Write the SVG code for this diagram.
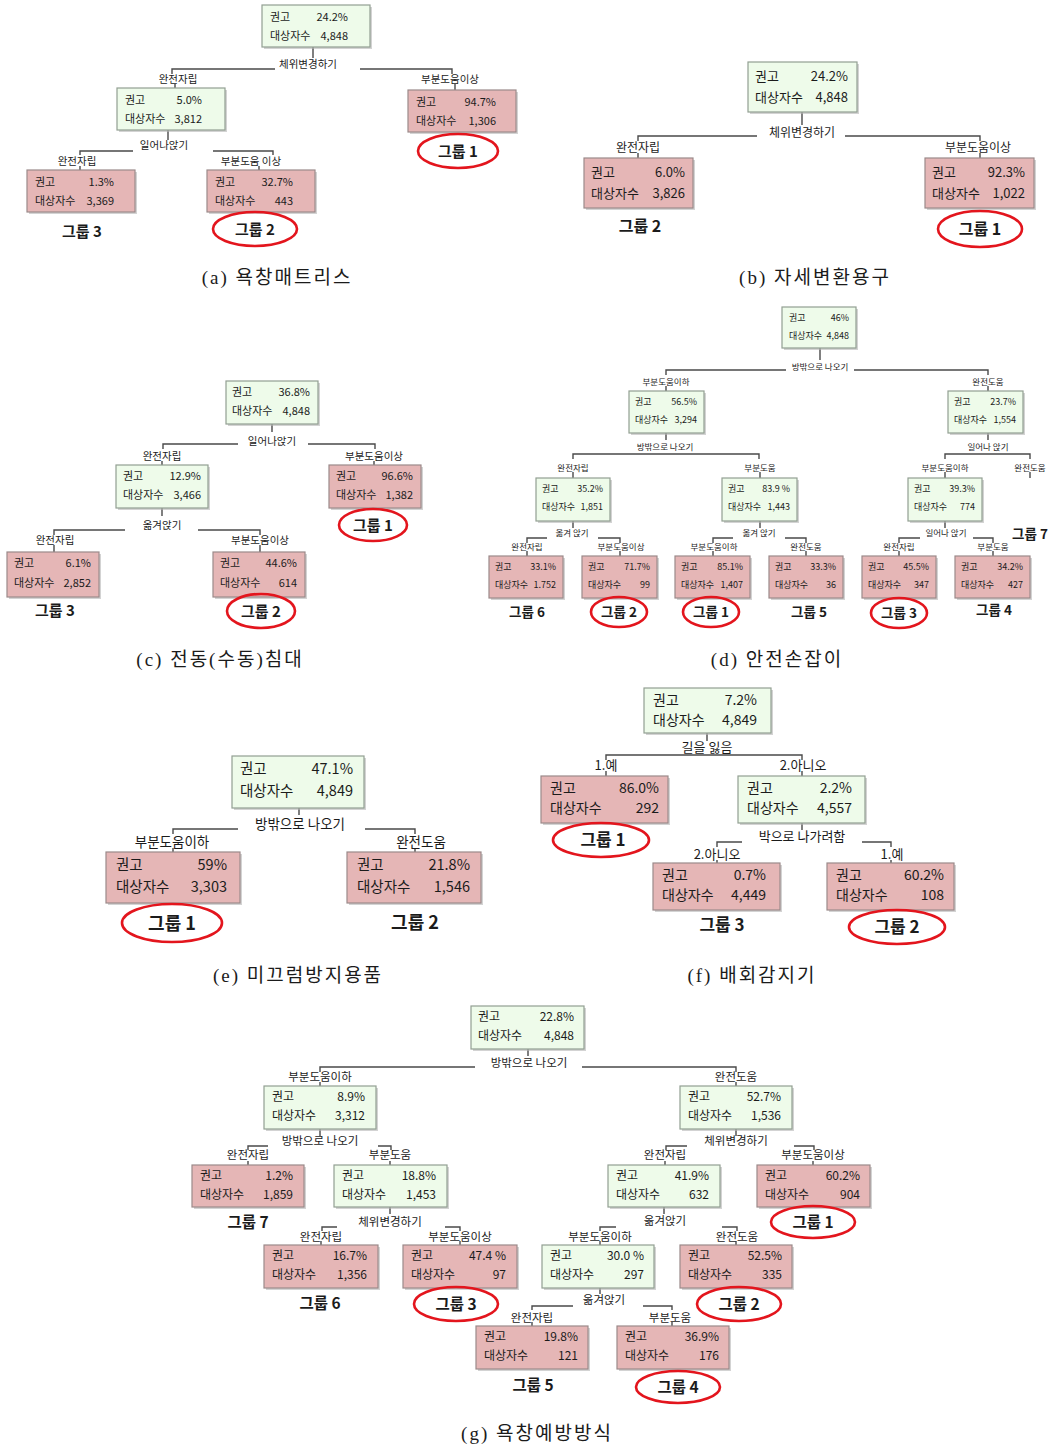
<svg xmlns="http://www.w3.org/2000/svg" width="1049" height="1450" viewBox="0 0 1049 1450">
<style>
text{font-family:"Noto Sans CJK KR","Noto Sans",sans-serif;fill:#1b1b1b}
.gr{fill:#eefbea;stroke:#929f92;stroke-width:1.2}
.pk{fill:#e5b6b6;stroke:#9b8a8a;stroke-width:1.2}
.sh{fill:#b5b5b5;opacity:.6}
.ln{fill:none;stroke:#4a4a4a;stroke-width:1.4}
.ov{fill:none;stroke:#e3151d;stroke-width:2.6}
.r{text-anchor:end}
.m{text-anchor:middle}
.gl{font-weight:700;text-anchor:middle}
.cap{font-family:"Liberation Serif","Noto Sans CJK KR",serif;font-size:19px;text-anchor:middle;letter-spacing:2px}
#pa .nt{font-size:11px}#pa .lb{font-size:10.5px}#pa .gl{font-size:15px}
#pb .nt{font-size:13px}#pb .lb{font-size:12px}#pb .gl{font-size:16px}
#pc .nt{font-size:11px}#pc .lb{font-size:10.5px}#pc .gl{font-size:15px}
#pd .nt{font-size:9px}#pd .lb{font-size:8.5px}#pd .gl{font-size:13.5px}
#pe .nt{font-size:14.5px}#pe .lb{font-size:13.5px}#pe .gl{font-size:18px}
#pf .nt{font-size:14px}#pf .lb{font-size:13px}#pf .gl{font-size:17px}
#pg .nt{font-size:12px}#pg .lb{font-size:11.5px}#pg .gl{font-size:15.5px}
</style>
<rect width="1049" height="1450" fill="#ffffff"/>

<!-- ================= (a) ================= -->
<g id="pa">
<g id="a-connectors">
<path class="ln" d="M313,47V58M275,69H172V74M360,69H452V74M175,84V88M455,84V90"/>
<text class="lb m" x="308" y="68">체위변경하기</text>
<text class="lb m" x="178" y="83">완전자립</text>
<text class="lb m" x="450" y="83">부분도움이상</text>
<path class="ln" d="M168,130V140M133,151H80V155M213,151H273V155M80,166V170M259,166V170"/>
<text class="lb m" x="164" y="149">일어나앉기</text>
<text class="lb m" x="77" y="165">완전자립</text>
<text class="lb m" x="251" y="165">부분도움 이상</text>
</g>
<g id="a-n0" class="nt"><rect class="sh" x="264" y="7" width="108" height="42"/><rect class="gr" x="262" y="5" width="108" height="42"/><text x="270" y="21">권고</text><text class="r" x="348" y="21">24.2%</text><text x="270" y="40">대상자수</text><text class="r" x="348" y="40">4,848</text></g>
<g id="a-n1" class="nt"><rect class="sh" x="119" y="90" width="108" height="42"/><rect class="gr" x="117" y="88" width="108" height="42"/><text x="125" y="104">권고</text><text class="r" x="202" y="104">5.0%</text><text x="125" y="123">대상자수</text><text class="r" x="202" y="123">3,812</text></g>
<g id="a-n2" class="nt"><rect class="sh" x="410" y="92" width="108" height="42"/><rect class="pk" x="408" y="90" width="108" height="42"/><text x="416" y="106">권고</text><text class="r" x="496" y="106">94.7%</text><text x="416" y="125">대상자수</text><text class="r" x="496" y="125">1,306</text></g>
<g id="a-n3" class="nt"><rect class="sh" x="29" y="172" width="108" height="42"/><rect class="pk" x="27" y="170" width="108" height="42"/><text x="35" y="186">권고</text><text class="r" x="114" y="186">1.3%</text><text x="35" y="205">대상자수</text><text class="r" x="114" y="205">3,369</text></g>
<g id="a-n4" class="nt"><rect class="sh" x="209" y="172" width="108" height="42"/><rect class="pk" x="207" y="170" width="108" height="42"/><text x="215" y="186">권고</text><text class="r" x="293" y="186">32.7%</text><text x="215" y="205">대상자수</text><text class="r" x="293" y="205">443</text></g>
<g id="a-g1"><ellipse class="ov" cx="458" cy="151" rx="40" ry="17"/><text class="gl" x="458" y="157">그룹 1</text></g>
<g id="a-g2"><ellipse class="ov" cx="255" cy="229" rx="42" ry="17"/><text class="gl" x="255" y="235">그룹 2</text></g>
<g id="a-g3"><text class="gl" x="82" y="237">그룹 3</text></g>
<text class="cap" x="277" y="284">(a) 욕창매트리스</text>
</g>

<!-- ================= (b) ================= -->
<g id="pb">
<g id="b-connectors">
<path class="ln" d="M802,112V125M757,136H638V141M845,136H980V141M638,153V158M980,153V158"/>
<text class="lb m" x="802" y="137">체위변경하기</text>
<text class="lb m" x="638" y="152">완전자립</text>
<text class="lb m" x="978" y="152">부분도움이상</text>
</g>
<g id="b-n0" class="nt"><rect class="sh" x="750" y="64" width="109" height="50"/><rect class="gr" x="748" y="62" width="109" height="50"/><text x="755" y="81">권고</text><text class="r" x="848" y="81">24.2%</text><text x="755" y="102">대상자수</text><text class="r" x="848" y="102">4,848</text></g>
<g id="b-n1" class="nt"><rect class="sh" x="586" y="160" width="109" height="50"/><rect class="pk" x="584" y="158" width="109" height="50"/><text x="591" y="177">권고</text><text class="r" x="685" y="177">6.0%</text><text x="591" y="198">대상자수</text><text class="r" x="685" y="198">3,826</text></g>
<g id="b-n2" class="nt"><rect class="sh" x="927" y="160" width="109" height="50"/><rect class="pk" x="925" y="158" width="109" height="50"/><text x="932" y="177">권고</text><text class="r" x="1025" y="177">92.3%</text><text x="932" y="198">대상자수</text><text class="r" x="1025" y="198">1,022</text></g>
<g id="b-g2"><text class="gl" x="640" y="232">그룹 2</text></g>
<g id="b-g1"><ellipse class="ov" cx="980" cy="229" rx="42" ry="18"/><text class="gl" x="980" y="235">그룹 1</text></g>
<text class="cap" x="815" y="284">(b) 자세변환용구</text>
</g>

<!-- ================= (c) ================= -->
<g id="pc">
<g id="c-connectors">
<path class="ln" d="M272,424V432M238,444H163V449M308,444H375V449M162,461V465M374,461V465"/>
<text class="lb m" x="272" y="445">일어나앉기</text>
<text class="lb m" x="162" y="460">완전자립</text>
<text class="lb m" x="374" y="460">부분도움이상</text>
<path class="ln" d="M162,508V516M125,530H54V535M198,530H260V535M54,545V552M260,545V552"/>
<text class="lb m" x="162" y="529">옮겨앉기</text>
<text class="lb m" x="55" y="544">완전자립</text>
<text class="lb m" x="260" y="544">부분도움이상</text>
</g>
<g id="c-n0" class="nt"><rect class="sh" x="228" y="383" width="92" height="43"/><rect class="gr" x="226" y="381" width="92" height="43"/><text x="232" y="396">권고</text><text class="r" x="310" y="396">36.8%</text><text x="232" y="415">대상자수</text><text class="r" x="310" y="415">4,848</text></g>
<g id="c-n1" class="nt"><rect class="sh" x="118" y="467" width="92" height="43"/><rect class="gr" x="116" y="465" width="92" height="43"/><text x="123" y="480">권고</text><text class="r" x="201" y="480">12.9%</text><text x="123" y="499">대상자수</text><text class="r" x="201" y="499">3,466</text></g>
<g id="c-n2" class="nt"><rect class="sh" x="331" y="467" width="92" height="43"/><rect class="pk" x="329" y="465" width="92" height="43"/><text x="336" y="480">권고</text><text class="r" x="413" y="480">96.6%</text><text x="336" y="499">대상자수</text><text class="r" x="413" y="499">1,382</text></g>
<g id="c-n3" class="nt"><rect class="sh" x="9" y="554" width="92" height="45"/><rect class="pk" x="7" y="552" width="92" height="45"/><text x="14" y="567">권고</text><text class="r" x="91" y="567">6.1%</text><text x="14" y="587">대상자수</text><text class="r" x="91" y="587">2,852</text></g>
<g id="c-n4" class="nt"><rect class="sh" x="215" y="554" width="92" height="45"/><rect class="pk" x="213" y="552" width="92" height="45"/><text x="220" y="567">권고</text><text class="r" x="297" y="567">44.6%</text><text x="220" y="587">대상자수</text><text class="r" x="297" y="587">614</text></g>
<g id="c-g1"><ellipse class="ov" cx="373" cy="525" rx="34" ry="16"/><text class="gl" x="373" y="531">그룹 1</text></g>
<g id="c-g3"><text class="gl" x="55" y="616">그룹 3</text></g>
<g id="c-g2"><ellipse class="ov" cx="261" cy="611" rx="34" ry="17"/><text class="gl" x="261" y="617">그룹 2</text></g>
<text class="cap" x="220" y="666">(c) 전동(수동)침대</text>
</g>

<!-- ================= (d) ================= -->
<g id="pd">
<g id="d-connectors">
<path class="ln" d="M820,348V360M786,370H666V375M854,370H988V375M666,386V391M988,386V391"/>
<text class="lb m" x="820" y="370">방밖으로 나오기</text>
<text class="lb m" x="666" y="385">부분도움이하</text>
<text class="lb m" x="988" y="385">완전도움</text>
<path class="ln" d="M666,433V440M573,459V454H759V459M573,472V478M760,472V478"/>
<text class="lb m" x="665" y="450">방밖으로 나오기</text>
<text class="lb m" x="573" y="471">완전자립</text>
<text class="lb m" x="760" y="471">부분도움</text>
<path class="ln" d="M988,433V440M945,459V454H1030V459M945,472V478M1030,472V478"/>
<text class="lb m" x="988" y="450">일어나 앉기</text>
<text class="lb m" x="945" y="471">부분도움이하</text>
<text class="lb m" x="1030" y="471">완전도움</text>
<path class="ln" d="M573,521V528M547,538H527V543M598,538H620V543M527,551V556M620,551V556"/>
<text class="lb m" x="572" y="536">옮겨 앉기</text>
<text class="lb m" x="527" y="550">완전자립</text>
<text class="lb m" x="621" y="550">부분도움이상</text>
<path class="ln" d="M760,521V528M733,538H713V543M785,538H806V543M713,551V556M806,551V556"/>
<text class="lb m" x="759" y="536">옮겨 앉기</text>
<text class="lb m" x="714" y="550">부분도움이하</text>
<text class="lb m" x="806" y="550">완전도움</text>
<path class="ln" d="M945,521V528M920,538H899V543M973,538H993V543M899,551V556M993,551V556"/>
<text class="lb m" x="946" y="536">일어나 앉기</text>
<text class="lb m" x="899" y="550">완전자립</text>
<text class="lb m" x="993" y="550">부분도움</text>
</g>
<g id="d-n0" class="nt"><rect class="sh" x="784" y="309" width="74" height="41"/><rect class="gr" x="782" y="307" width="74" height="41"/><text x="789" y="321">권고</text><text class="r" x="849" y="321">46%</text><text x="789" y="339">대상자수</text><text class="r" x="849" y="339">4,848</text></g>
<g id="d-n1" class="nt"><rect class="sh" x="631" y="393" width="75" height="42"/><rect class="gr" x="629" y="391" width="75" height="42"/><text x="635" y="405">권고</text><text class="r" x="697" y="405">56.5%</text><text x="635" y="423">대상자수</text><text class="r" x="697" y="423">3,294</text></g>
<g id="d-n2" class="nt"><rect class="sh" x="950" y="393" width="75" height="42"/><rect class="gr" x="948" y="391" width="75" height="42"/><text x="954" y="405">권고</text><text class="r" x="1016" y="405">23.7%</text><text x="954" y="423">대상자수</text><text class="r" x="1016" y="423">1,554</text></g>
<g id="d-n3" class="nt"><rect class="sh" x="538" y="480" width="74" height="43"/><rect class="gr" x="536" y="478" width="74" height="43"/><text x="542" y="492">권고</text><text class="r" x="603" y="492">35.2%</text><text x="542" y="510">대상자수</text><text class="r" x="603" y="510">1,851</text></g>
<g id="d-n4" class="nt"><rect class="sh" x="724" y="480" width="75" height="43"/><rect class="gr" x="722" y="478" width="75" height="43"/><text x="728" y="492">권고</text><text class="r" x="790" y="492">83.9 %</text><text x="728" y="510">대상자수</text><text class="r" x="790" y="510">1,443</text></g>
<g id="d-n9" class="nt"><rect class="sh" x="910" y="480" width="74" height="43"/><rect class="gr" x="908" y="478" width="74" height="43"/><text x="914" y="492">권고</text><text class="r" x="975" y="492">39.3%</text><text x="914" y="510">대상자수</text><text class="r" x="975" y="510">774</text></g>
<g id="d-n5" class="nt"><rect class="sh" x="491" y="558" width="74" height="42"/><rect class="pk" x="489" y="556" width="74" height="42"/><text x="495" y="570">권고</text><text class="r" x="556" y="570">33.1%</text><text x="495" y="588">대상자수</text><text class="r" x="556" y="588">1.752</text></g>
<g id="d-n6" class="nt"><rect class="sh" x="584" y="558" width="75" height="42"/><rect class="pk" x="582" y="556" width="75" height="42"/><text x="588" y="570">권고</text><text class="r" x="650" y="570">71.7%</text><text x="588" y="588">대상자수</text><text class="r" x="650" y="588">99</text></g>
<g id="d-n7" class="nt"><rect class="sh" x="677" y="558" width="75" height="42"/><rect class="pk" x="675" y="556" width="75" height="42"/><text x="681" y="570">권고</text><text class="r" x="743" y="570">85.1%</text><text x="681" y="588">대상자수</text><text class="r" x="743" y="588">1,407</text></g>
<g id="d-n8" class="nt"><rect class="sh" x="771" y="558" width="74" height="42"/><rect class="pk" x="769" y="556" width="74" height="42"/><text x="775" y="570">권고</text><text class="r" x="836" y="570">33.3%</text><text x="775" y="588">대상자수</text><text class="r" x="836" y="588">36</text></g>
<g id="d-n10" class="nt"><rect class="sh" x="864" y="558" width="74" height="42"/><rect class="pk" x="862" y="556" width="74" height="42"/><text x="868" y="570">권고</text><text class="r" x="929" y="570">45.5%</text><text x="868" y="588">대상자수</text><text class="r" x="929" y="588">347</text></g>
<g id="d-n11" class="nt"><rect class="sh" x="957" y="558" width="75" height="42"/><rect class="pk" x="955" y="556" width="75" height="42"/><text x="961" y="570">권고</text><text class="r" x="1023" y="570">34.2%</text><text x="961" y="588">대상자수</text><text class="r" x="1023" y="588">427</text></g>
<g id="d-g6"><text class="gl" x="527" y="617">그룹 6</text></g>
<g id="d-g2"><ellipse class="ov" cx="619" cy="612" rx="28" ry="15"/><text class="gl" x="619" y="617">그룹 2</text></g>
<g id="d-g1"><ellipse class="ov" cx="711" cy="612" rx="28" ry="15"/><text class="gl" x="711" y="617">그룹 1</text></g>
<g id="d-g5"><text class="gl" x="809" y="617">그룹 5</text></g>
<g id="d-g3"><ellipse class="ov" cx="899" cy="613" rx="28" ry="15"/><text class="gl" x="899" y="618">그룹 3</text></g>
<g id="d-g4"><text class="gl" x="994" y="615">그룹 4</text></g>
<g id="d-g7"><text class="gl" x="1030" y="539">그룹 7</text></g>
<text class="cap" x="777" y="666">(d) 안전손잡이</text>
</g>

<!-- ================= (e) ================= -->
<g id="pe">
<g id="e-connectors">
<path class="ln" d="M299,808V815M238,829H173V834M365,829H415V834M173,848V852M415,848V852"/>
<text class="lb m" x="300" y="829">방밖으로 나오기</text>
<text class="lb m" x="172" y="847">부분도움이하</text>
<text class="lb m" x="421" y="847">완전도움</text>
</g>
<g id="e-n0" class="nt"><rect class="sh" x="234" y="758" width="132" height="52"/><rect class="gr" x="232" y="756" width="132" height="52"/><text x="240" y="774">권고</text><text class="r" x="353" y="774">47.1%</text><text x="240" y="796">대상자수</text><text class="r" x="353" y="796">4,849</text></g>
<g id="e-n1" class="nt"><rect class="sh" x="108" y="854" width="134" height="51"/><rect class="pk" x="106" y="852" width="134" height="51"/><text x="116" y="870">권고</text><text class="r" x="227" y="870">59%</text><text x="116" y="892">대상자수</text><text class="r" x="227" y="892">3,303</text></g>
<g id="e-n2" class="nt"><rect class="sh" x="349" y="854" width="134" height="51"/><rect class="pk" x="347" y="852" width="134" height="51"/><text x="357" y="870">권고</text><text class="r" x="470" y="870">21.8%</text><text x="357" y="892">대상자수</text><text class="r" x="470" y="892">1,546</text></g>
<g id="e-g1"><ellipse class="ov" cx="172" cy="923" rx="50" ry="19"/><text class="gl" x="172" y="930">그룹 1</text></g>
<g id="e-g2"><text class="gl" x="415" y="929">그룹 2</text></g>
<text class="cap" x="298" y="982">(e) 미끄럼방지용품</text>
</g>

<!-- ================= (f) ================= -->
<g id="pf">
<g id="f-connectors">
<path class="ln" d="M707,733V741M606,760V755H802V760M606,771V776M802,771V776"/>
<text class="lb m" x="707" y="752">길을 잃음</text>
<text class="lb m" x="606" y="770">1.예</text>
<text class="lb m" x="803" y="770">2.아니오</text>
<path class="ln" d="M802,823V830M742,842H717V847M862,842H891V847M717,860V863M891,860V863"/>
<text class="lb m" x="802" y="841">박으로 나가려함</text>
<text class="lb m" x="717" y="859">2.아니오</text>
<text class="lb m" x="892" y="859">1.예</text>
</g>
<g id="f-n0" class="nt"><rect class="sh" x="646" y="690" width="127" height="45"/><rect class="gr" x="644" y="688" width="127" height="45"/><text x="653" y="705">권고</text><text class="r" x="757" y="705">7.2%</text><text x="653" y="725">대상자수</text><text class="r" x="757" y="725">4,849</text></g>
<g id="f-n1" class="nt"><rect class="sh" x="543" y="778" width="127" height="47"/><rect class="pk" x="541" y="776" width="127" height="47"/><text x="550" y="793">권고</text><text class="r" x="659" y="793">86.0%</text><text x="550" y="813">대상자수</text><text class="r" x="659" y="813">292</text></g>
<g id="f-n2" class="nt"><rect class="sh" x="740" y="778" width="127" height="47"/><rect class="gr" x="738" y="776" width="127" height="47"/><text x="747" y="793">권고</text><text class="r" x="852" y="793">2.2%</text><text x="747" y="813">대상자수</text><text class="r" x="852" y="813">4,557</text></g>
<g id="f-n3" class="nt"><rect class="sh" x="655" y="865" width="127" height="47"/><rect class="pk" x="653" y="863" width="127" height="47"/><text x="662" y="880">권고</text><text class="r" x="766" y="880">0.7%</text><text x="662" y="900">대상자수</text><text class="r" x="766" y="900">4,449</text></g>
<g id="f-n4" class="nt"><rect class="sh" x="829" y="865" width="127" height="47"/><rect class="pk" x="827" y="863" width="127" height="47"/><text x="836" y="880">권고</text><text class="r" x="944" y="880">60.2%</text><text x="836" y="900">대상자수</text><text class="r" x="944" y="900">108</text></g>
<g id="f-g1"><ellipse class="ov" cx="601" cy="840" rx="48" ry="17"/><text class="gl" x="603" y="846">그룹 1</text></g>
<g id="f-g3"><text class="gl" x="722" y="931">그룹 3</text></g>
<g id="f-g2"><ellipse class="ov" cx="897" cy="927" rx="48" ry="17"/><text class="gl" x="897" y="933">그룹 2</text></g>
<text class="cap" x="752" y="982">(f) 배회감지기</text>
</g>

<!-- ================= (g) ================= -->
<g id="pg">
<g id="g-connectors">
<path class="ln" d="M528,1049V1056M475,1067H320V1072M582,1067H736V1072M320,1082V1086M736,1082V1086"/>
<text class="lb m" x="529" y="1067">방밖으로 나오기</text>
<text class="lb m" x="320" y="1081">부분도움이하</text>
<text class="lb m" x="736" y="1081">완전도움</text>
<path class="ln" d="M320,1129V1136M268,1146H248V1150M378,1146H391V1150M248,1161V1165M390,1161V1165"/>
<text class="lb m" x="320" y="1145">방밖으로 나오기</text>
<text class="lb m" x="248" y="1159">완전자립</text>
<text class="lb m" x="390" y="1159">부분도움</text>
<path class="ln" d="M736,1129V1136M687,1146H666V1150M794,1146H814V1150M665,1161V1165M813,1161V1165"/>
<text class="lb m" x="736" y="1145">체위변경하기</text>
<text class="lb m" x="665" y="1159">완전자립</text>
<text class="lb m" x="813" y="1159">부분도움이상</text>
<path class="ln" d="M390,1207V1214M337,1227H322V1231M445,1227H460V1231M321,1241V1245M460,1241V1245"/>
<text class="lb m" x="390" y="1226">체위변경하기</text>
<text class="lb m" x="321" y="1241">완전자립</text>
<text class="lb m" x="460" y="1241">부분도움이상</text>
<path class="ln" d="M664,1207V1214M616,1227H600V1231M722,1227H737V1231M600,1241V1245M736,1241V1245"/>
<text class="lb m" x="665" y="1225">옮겨앉기</text>
<text class="lb m" x="600" y="1241">부분도움이하</text>
<text class="lb m" x="737" y="1241">완전도움</text>
<path class="ln" d="M600,1288V1294M573,1306H532V1310M643,1306H672V1310M532,1322V1326M672,1322V1326"/>
<text class="lb m" x="604" y="1304">옮겨앉기</text>
<text class="lb m" x="532" y="1322">완전자립</text>
<text class="lb m" x="670" y="1322">부분도움</text>
</g>
<g id="g-n0" class="nt"><rect class="sh" x="473" y="1008" width="113" height="43"/><rect class="gr" x="471" y="1006" width="113" height="43"/><text x="478" y="1021">권고</text><text class="r" x="574" y="1021">22.8%</text><text x="478" y="1040">대상자수</text><text class="r" x="574" y="1040">4,848</text></g>
<g id="g-n1" class="nt"><rect class="sh" x="266" y="1088" width="112" height="43"/><rect class="gr" x="264" y="1086" width="112" height="43"/><text x="272" y="1101">권고</text><text class="r" x="365" y="1101">8.9%</text><text x="272" y="1120">대상자수</text><text class="r" x="365" y="1120">3,312</text></g>
<g id="g-n2" class="nt"><rect class="sh" x="682" y="1088" width="112" height="43"/><rect class="gr" x="680" y="1086" width="112" height="43"/><text x="688" y="1101">권고</text><text class="r" x="781" y="1101">52.7%</text><text x="688" y="1120">대상자수</text><text class="r" x="781" y="1120">1,536</text></g>
<g id="g-n3" class="nt"><rect class="sh" x="194" y="1167" width="112" height="42"/><rect class="pk" x="192" y="1165" width="112" height="42"/><text x="200" y="1180">권고</text><text class="r" x="293" y="1180">1.2%</text><text x="200" y="1199">대상자수</text><text class="r" x="293" y="1199">1,859</text></g>
<g id="g-n4" class="nt"><rect class="sh" x="336" y="1167" width="113" height="42"/><rect class="gr" x="334" y="1165" width="113" height="42"/><text x="342" y="1180">권고</text><text class="r" x="436" y="1180">18.8%</text><text x="342" y="1199">대상자수</text><text class="r" x="436" y="1199">1,453</text></g>
<g id="g-n5" class="nt"><rect class="sh" x="610" y="1167" width="112" height="42"/><rect class="gr" x="608" y="1165" width="112" height="42"/><text x="616" y="1180">권고</text><text class="r" x="709" y="1180">41.9%</text><text x="616" y="1199">대상자수</text><text class="r" x="709" y="1199">632</text></g>
<g id="g-n6" class="nt"><rect class="sh" x="759" y="1167" width="113" height="42"/><rect class="pk" x="757" y="1165" width="113" height="42"/><text x="765" y="1180">권고</text><text class="r" x="860" y="1180">60.2%</text><text x="765" y="1199">대상자수</text><text class="r" x="860" y="1199">904</text></g>
<g id="g-n7" class="nt"><rect class="sh" x="266" y="1247" width="114" height="43"/><rect class="pk" x="264" y="1245" width="114" height="43"/><text x="272" y="1260">권고</text><text class="r" x="367" y="1260">16.7%</text><text x="272" y="1279">대상자수</text><text class="r" x="367" y="1279">1,356</text></g>
<g id="g-n8" class="nt"><rect class="sh" x="405" y="1247" width="114" height="43"/><rect class="pk" x="403" y="1245" width="114" height="43"/><text x="411" y="1260">권고</text><text class="r" x="506" y="1260">47.4 %</text><text x="411" y="1279">대상자수</text><text class="r" x="506" y="1279">97</text></g>
<g id="g-n9" class="nt"><rect class="sh" x="544" y="1247" width="112" height="43"/><rect class="gr" x="542" y="1245" width="112" height="43"/><text x="550" y="1260">권고</text><text class="r" x="644" y="1260">30.0 %</text><text x="550" y="1279">대상자수</text><text class="r" x="644" y="1279">297</text></g>
<g id="g-n10" class="nt"><rect class="sh" x="682" y="1247" width="112" height="43"/><rect class="pk" x="680" y="1245" width="112" height="43"/><text x="688" y="1260">권고</text><text class="r" x="782" y="1260">52.5%</text><text x="688" y="1279">대상자수</text><text class="r" x="782" y="1279">335</text></g>
<g id="g-n11" class="nt"><rect class="sh" x="478" y="1328" width="112" height="43"/><rect class="pk" x="476" y="1326" width="112" height="43"/><text x="484" y="1341">권고</text><text class="r" x="578" y="1341">19.8%</text><text x="484" y="1360">대상자수</text><text class="r" x="578" y="1360">121</text></g>
<g id="g-n12" class="nt"><rect class="sh" x="619" y="1328" width="112" height="43"/><rect class="pk" x="617" y="1326" width="112" height="43"/><text x="625" y="1341">권고</text><text class="r" x="719" y="1341">36.9%</text><text x="625" y="1360">대상자수</text><text class="r" x="719" y="1360">176</text></g>
<g id="g-g7"><text class="gl" x="248" y="1228">그룹 7</text></g>
<g id="g-g1"><ellipse class="ov" cx="813" cy="1222" rx="42" ry="16"/><text class="gl" x="813" y="1228">그룹 1</text></g>
<g id="g-g6"><text class="gl" x="320" y="1309">그룹 6</text></g>
<g id="g-g3"><ellipse class="ov" cx="456" cy="1304" rx="42" ry="17"/><text class="gl" x="456" y="1310">그룹 3</text></g>
<g id="g-g2"><ellipse class="ov" cx="739" cy="1304" rx="42" ry="17"/><text class="gl" x="739" y="1310">그룹 2</text></g>
<g id="g-g5"><text class="gl" x="533" y="1391">그룹 5</text></g>
<g id="g-g4"><ellipse class="ov" cx="678" cy="1387" rx="42" ry="16"/><text class="gl" x="678" y="1393">그룹 4</text></g>
<text class="cap" x="537" y="1440">(g) 욕창예방방식</text>
</g>
</svg>
